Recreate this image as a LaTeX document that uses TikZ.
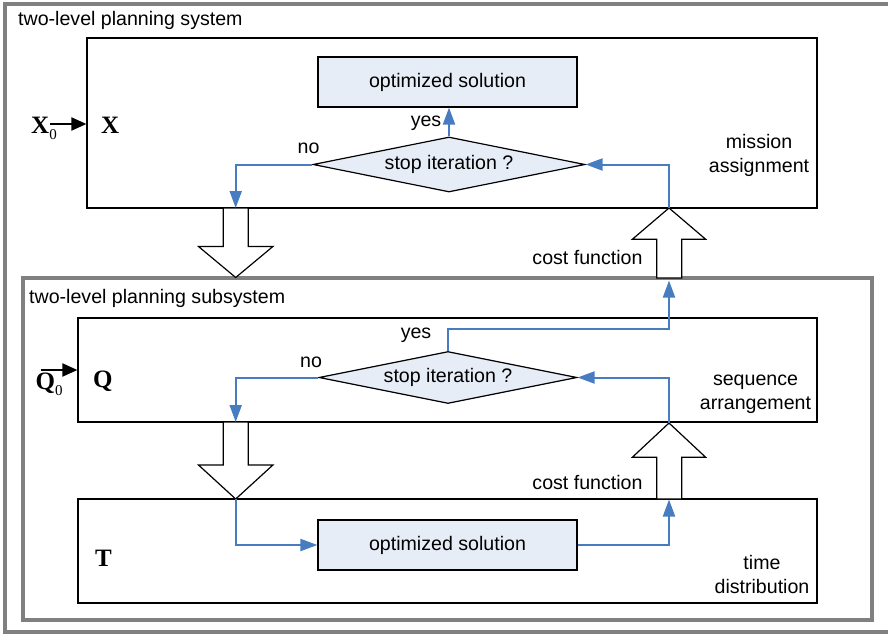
\documentclass[tikz,border=0pt]{standalone}
\usepackage{fontspec}
\setmainfont{Liberation Sans}
\newfontfamily\tmsfont{Liberation Serif}
\usetikzlibrary{shapes.geometric,arrows.meta}

\definecolor{flowblue}{RGB}{72,124,192}
\definecolor{boxfill}{RGB}{231,237,247}
\definecolor{framegray}{RGB}{128,128,128}

\begin{document}
\begin{tikzpicture}[x=1pt,y=-1pt,
  every node/.style={font=\fontsize{19.6}{24}\selectfont, inner sep=0pt},
  frame/.style={draw=framegray, line width=4pt},
  levelbox/.style={draw=black, line width=1.2pt, rectangle},
  solbox/.style={draw=black, line width=1.2pt, fill=boxfill, rectangle,
    minimum width=259pt, minimum height=50pt},
  decision/.style={draw=black, line width=1.2pt, fill=boxfill, diamond, aspect=5},
  flow/.style={draw=flowblue, line width=2pt, -{Triangle[length=17pt,width=12pt]}},
  inarrow/.style={draw=black, line width=2pt, -{Triangle[length=15pt,width=13pt]}},
  hollow/.style={draw=black, line width=1.2pt, fill=white, line join=miter},
  sym/.style={font=\fontsize{25}{25}\tmsfont\bfseries, anchor=base west},
  lbl/.style={align=center},
]
\useasboundingbox (0,0) rectangle (888,634);

% frames of the system and of the subsystem
\draw[frame] (5,4) rectangle (894,631.5);
\draw[frame] (23,278) rectangle (872,620);
\node[anchor=west] (systitle) at (18,20) {two-level planning system};
\node[anchor=west] (subtitle) at (29,298) {two-level planning subsystem};

% level boxes
\node[levelbox, minimum width=730pt, minimum height=170pt] (boxX) at (452,123) {};
\node[levelbox, minimum width=739pt, minimum height=104pt] (boxQ) at (447.5,370) {};
\node[levelbox, minimum width=739pt, minimum height=104pt] (boxT) at (447.5,551) {};

% level symbols and inputs
\node[sym] (symX) at (101,133.5) {X};
\node[sym] (symQ) at (93,387.5) {Q};
\node[sym] (symT) at (95,566) {T};
\node[sym] (symX0) at (31,133) {X\raisebox{-6pt}{\fontsize{15}{15}\tmsfont\mdseries 0}};
\node[sym] (symQ0) at (35.5,389.5) {Q\raisebox{-6pt}{\fontsize{15}{15}\tmsfont\mdseries 0}};
\coordinate (x0tail) at (50,124);
\coordinate (q0tail) at (40.5,370);
\draw[inarrow] (x0tail) -- (x0tail -| boxX.west);
\draw[inarrow] (q0tail) -- (q0tail -| boxQ.west);

% level names
\node[lbl] (nameX) at (759,155.5) {mission\\assignment};
\node[lbl] (nameQ) at (755.5,394.5) {sequence\\arrangement};
\node[lbl] (nameT) at (762,574.5) {time\\distribution};

% solutions and decisions
\node[solbox] (opt1) at (447.5,82) {optimized solution};
\node[solbox] (opt2) at (447.5,545) {optimized solution};
\node[decision, minimum width=272pt, minimum height=55pt] (d1) at (449,164.5) {stop iteration ?};
\node[decision, minimum width=258pt, minimum height=52pt] (d2) at (448,377.5) {stop iteration ?};

% hollow transfer arrows
\draw[hollow] (223.2,208) -- (223.2,246.5) -- (198.5,246.5) -- (235.7,277.5)
  -- (272.9,246.5) -- (248.2,246.5) -- (248.2,208) -- cycle;
\draw[hollow] (223.2,422) -- (223.2,465) -- (198.5,465) -- (235.7,499)
  -- (272.9,465) -- (248.2,465) -- (248.2,422) -- cycle;
\draw[hollow] (656.7,278) -- (656.7,239.3) -- (632.3,239.3) -- (669,208)
  -- (705.7,239.3) -- (681.7,239.3) -- (681.7,278) -- cycle;
\draw[hollow] (656.7,499) -- (656.7,457.3) -- (632.3,457.3) -- (669,423)
  -- (705.7,457.3) -- (681.7,457.3) -- (681.7,499) -- cycle;

\node (cost1) at (587.5,257) {cost function};
\node (cost2) at (587.5,482) {cost function};

% arrow ends on the hollow arrows
\coordinate (dn1top) at (235.7,208);
\coordinate (dn2top) at (235.7,422);
\coordinate (dn2tip) at (235.7,499);
\coordinate (up1tip) at (669,208);
\coordinate (up1foot) at (669,280.5);
\coordinate (up2tip) at (669,423);
\coordinate (up2foot) at (669,499.5);
\coordinate (yesbend) at (448,329);

% control flow
\draw[flow] (d1.west) -| (dn1top);
\draw[flow] (d1.north) -- (d1.north |- opt1.south);
\draw[flow] (up1tip) |- (d1.east);
\draw[flow] (d2.north) -- (yesbend) -| (up1foot);
\draw[flow] (d2.west) -| (dn2top);
\draw[flow] (up2tip) |- (d2.east);
\draw[flow] (dn2tip) |- (opt2.west);
\draw[flow] (opt2.east) -| (up2foot);

% branch labels
\node (no1) at (308.5,148) {no};
\node (yes1) at (426,123) {yes};
\node (no2) at (311,362.5) {no};
\node (yes2) at (416,335) {yes};
\end{tikzpicture}
\end{document}
